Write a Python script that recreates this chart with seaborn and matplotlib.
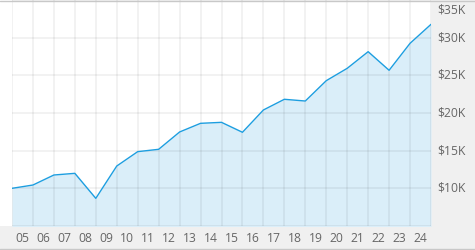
import matplotlib
matplotlib.use("Agg")
import matplotlib.pyplot as plt
import seaborn as sns
import pandas as pd
from matplotlib.lines import Line2D
from matplotlib.patches import Rectangle

# data
points = list(range(21))
values = [10000, 10440, 11770, 11990, 8670, 12960, 14870, 15180, 17480, 18630,
          18760, 17440, 20400, 21820, 21590, 24290, 25930, 28140, 25670, 29250, 31770]
year_labels = ["05", "06", "07", "08", "09", "10", "11", "12", "13", "14", "15",
               "16", "17", "18", "19", "20", "21", "22", "23", "24"]
y_ticks = [10000, 15000, 20000, 25000, 30000, 35000]
y_labels = ["$10K", "$15K", "$20K", "$25K", "$30K", "$35K"]

df = pd.DataFrame({"pt": points, "value": values})

sns.set_theme(style="white")
plt.rcParams["font.family"] = ["Open Sans", "DejaVu Sans"]

W, H = 475, 250
fig = plt.figure(figsize=(W / 100, H / 100), dpi=100, facecolor="#f0f0f0")
# white strip at left of plot
fig.patches.append(Rectangle((0, 24 / H), 12 / W, 226 / H, transform=fig.transFigure,
                             facecolor="white", edgecolor="none", zorder=0))

ax = fig.add_axes([12 / W, 24 / H, 419 / W, 226 / H])
ax.set_facecolor("white")

ax.fill_between(df["pt"], df["value"], 0, color="#daeef9", linewidth=0, zorder=1)
sns.lineplot(data=df, x="pt", y="value", ax=ax, color="#1d9ee0", linewidth=1.0, zorder=3)

ax.set_xlim(0, 20)
ax.set_ylim(5000, 35000)

# gridlines at data points
ax.set_xticks(points)
ax.set_xticklabels([])
ax.set_xticks([p + 0.5 for p in points[:-1]], minor=True)
ax.set_xticklabels(year_labels, minor=True)
ax.set_yticks([5000] + y_ticks)
ax.grid(True, which="major", color="black", alpha=0.05, linewidth=1.44, zorder=2)
ax.set_axisbelow(False)
ax.tick_params(axis="x", which="both", length=0, pad=4, labelsize=8.7, labelcolor="#666666")
ax.tick_params(axis="y", length=0)
ax.set_yticklabels([])

for s in ax.spines.values():
    s.set_visible(False)
ax.set_xlabel("")
ax.set_ylabel("")

# right-side value labels
for v, lab in zip(y_ticks, y_labels):
    yy = v if v != 35000 else 33700
    ax.text(1.014, yy, lab, transform=ax.get_yaxis_transform(), ha="left", va="center",
            fontsize=8.7, color="#666666", clip_on=False)

# borders
fig.lines.append(Line2D([0, 1], [1 - 0.5 / H, 1 - 0.5 / H], transform=fig.transFigure,
                        color="#c8c8c8", linewidth=1.0, zorder=10))
fig.lines.append(Line2D([0, 1], [1.5 / H, 1.5 / H], transform=fig.transFigure,
                        color="#c8c8c8", linewidth=1.0, zorder=10))

fig.savefig("out.png", dpi=100, facecolor=fig.get_facecolor())
